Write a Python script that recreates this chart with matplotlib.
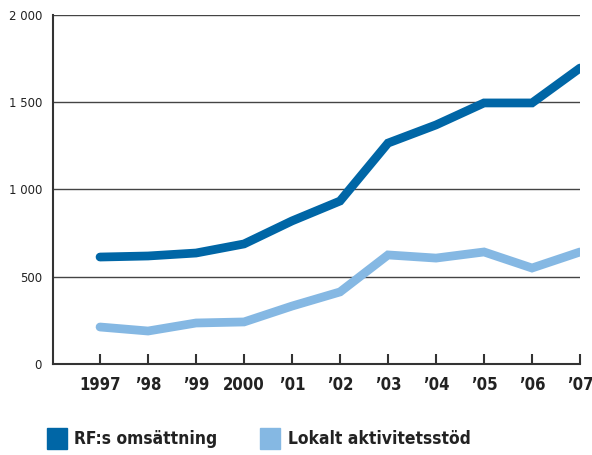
import matplotlib.pyplot as plt
from matplotlib.patches import Rectangle

years = [1997, 1998, 1999, 2000, 2001, 2002, 2003, 2004, 2005, 2006, 2007]
year_labels = ['1997', '’98', '’99', '2000', '’01', '’02', '’03', '’04', '’05', '’06', '’07']
rf_omsattning = [613, 619, 636, 688, 820, 934, 1266, 1370, 1496, 1496, 1696]
lokalt_stod = [212, 189, 235, 241, 332, 413, 625, 607, 642, 550, 642]
yticks = [0, 500, 1000, 1500, 2000]
ytick_labels = ['0', '500', '1 000', '1 500', '2 000']

dark = '#0066a6'
light = '#85b8e3'

fig = plt.figure(figsize=(5.92, 4.55), dpi=100)
ax = fig.add_axes([53/592, 1-364/455, (580-53)/592, (364-15)/455])

for y in yticks[1:]:
    ax.axhline(y, color='#444444', lw=1.0, zorder=1)

ax.plot(years, rf_omsattning, color=dark, lw=6.3, solid_capstyle='round', solid_joinstyle='miter', zorder=3)
ax.plot(years, lokalt_stod, color=light, lw=6.3, solid_capstyle='round', solid_joinstyle='miter', zorder=3)

ax.set_xlim(1996.02, 2007)
ax.set_ylim(0, 2000)
ax.spines['top'].set_visible(False)
ax.spines['right'].set_visible(False)
ax.spines['left'].set_color('#333333')
ax.spines['bottom'].set_color('#333333')
ax.spines['left'].set_linewidth(1.5)
ax.spines['bottom'].set_linewidth(1.5)

ax.set_xticks(years)
ax.set_xticklabels(year_labels, fontsize=12, fontweight='bold', fontstretch='condensed', color='#222222')
ax.tick_params(axis='x', direction='in', length=7, width=1.5, color='#333333', pad=9)
ax.set_yticks(yticks)
ax.set_yticklabels(ytick_labels, fontsize=8.5, color='#222222')
ax.tick_params(axis='y', length=0, pad=8)

# legend
fig.patches.append(Rectangle((47/592, 1-449/455), 20/592, 21/455, transform=fig.transFigure, color=dark))
fig.text(74/592, 1-439/455, 'RF:s omsättning', fontsize=12.5, fontweight='bold', fontstretch='condensed',
         va='center', color='#222222')
fig.patches.append(Rectangle((260/592, 1-449/455), 20/592, 21/455, transform=fig.transFigure, color=light))
fig.text(288/592, 1-439/455, 'Lokalt aktivitetsstöd', fontsize=12.5, fontweight='bold', fontstretch='condensed',
         va='center', color='#222222')

fig.savefig('out.png', dpi=100)
